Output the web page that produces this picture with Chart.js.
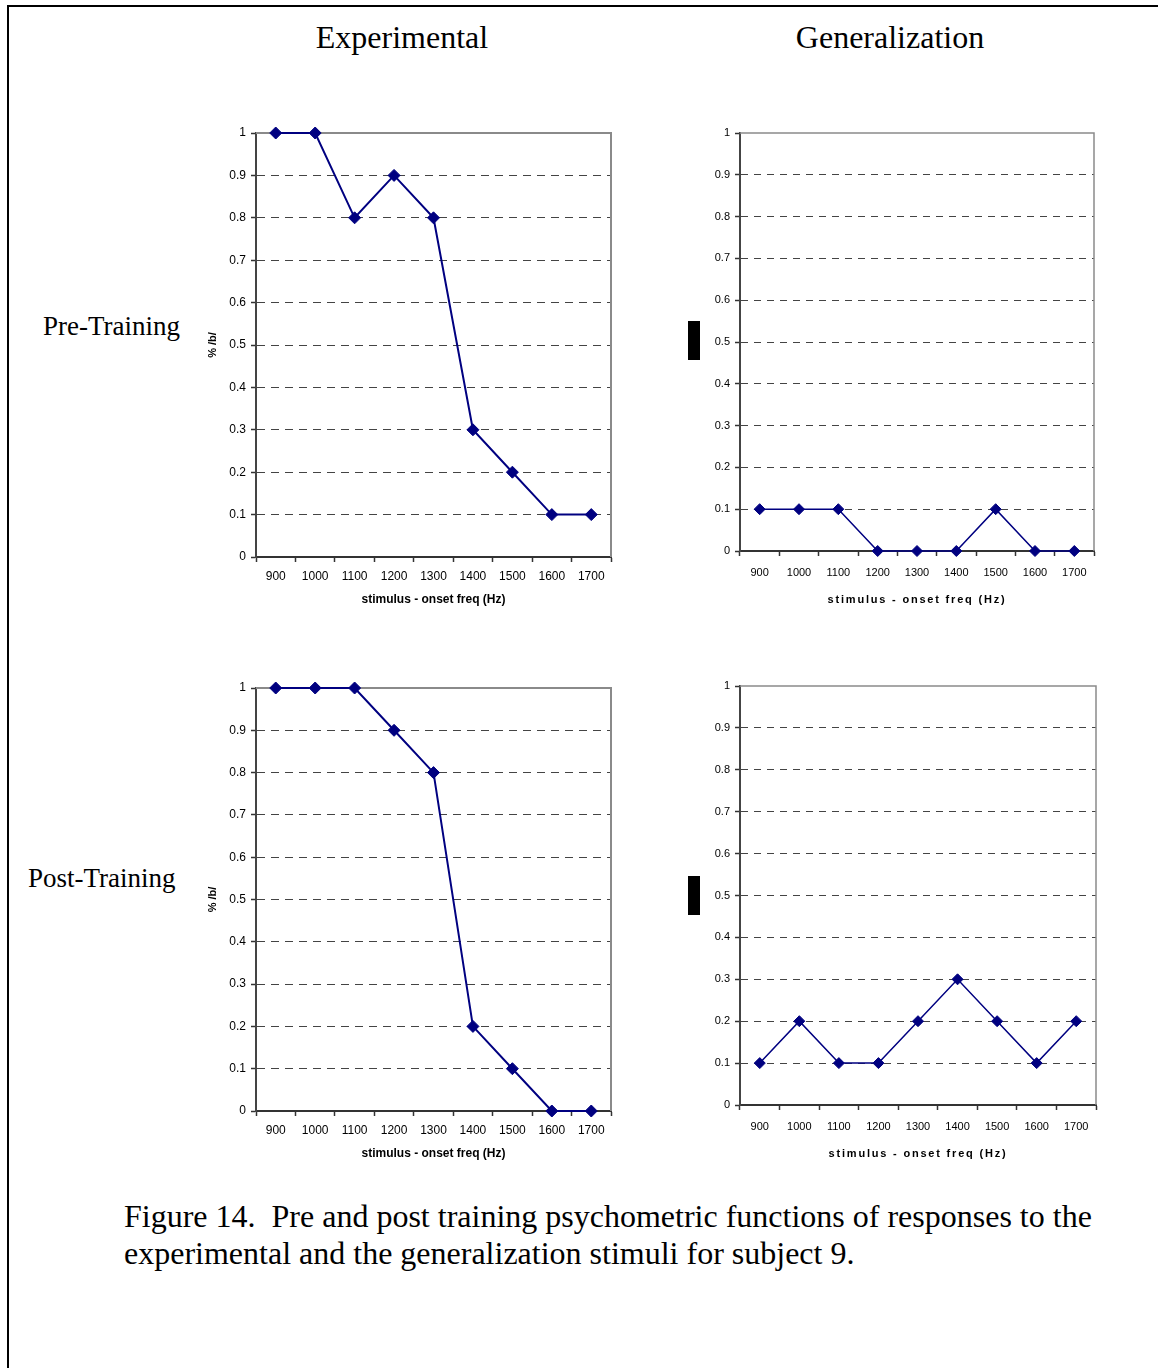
<!DOCTYPE html>
<html>
<head>
<meta charset="utf-8">
<script src="https://cdn.jsdelivr.net/npm/chart.js@4"></script>
<style>
  body { margin: 0; background: #fff; }
  #page { position: relative; width: 1158px; height: 1368px; overflow: hidden; background: #fff; }
  .line-top { position: absolute; left: 7px; top: 5px; width: 1151px; height: 2px; background: #000; }
  .line-left { position: absolute; left: 7px; top: 5px; width: 2px; height: 1363px; background: #000; }
  .serif { position: absolute; font-family: "Liberation Serif", "Times New Roman", serif; color: #000; white-space: nowrap; }
  canvas { position: absolute; }
  .blk { position: absolute; left: 688px; width: 12px; height: 39px; background: #000; }
</style>
</head>
<body>
<div id="page">
  <div class="line-top"></div>
  <div class="line-left"></div>

  <div class="serif" style="left:252px; width:300px; top:18px; font-size:32px; line-height:38px; text-align:center;">Experimental</div>
  <div class="serif" style="left:740px; width:300px; top:18px; font-size:32px; line-height:38px; text-align:center;">Generalization</div>

  <div class="serif" style="left:43px; top:310px; font-size:27px; line-height:32px;">Pre-Training</div>
  <div class="serif" style="left:28px; top:862px; font-size:27px; line-height:32px;">Post-Training</div>

  <canvas id="preExp" width="435" height="495" style="left:190px; top:120px;"></canvas>
  <canvas id="preGen" width="418" height="495" style="left:690px; top:120px;"></canvas>
  <canvas id="postExp" width="435" height="494" style="left:190px; top:675px;"></canvas>
  <canvas id="postGen" width="420" height="496" style="left:690px; top:673px;"></canvas>

  <div class="blk" style="top:321px;"></div>
  <div class="blk" style="top:876px;"></div>

  <div class="serif" style="left:124px; top:1198px; font-size:32px; line-height:37px;">Figure 14.&nbsp; Pre and post training psychometric functions of responses to the<br>experimental and the generalization stimuli for subject 9.</div>
</div>

<script>
const freqs = ["900", "1000", "1100", "1200", "1300", "1400", "1500", "1600", "1700"];

const preExperimental = [1, 1, 0.8, 0.9, 0.8, 0.3, 0.2, 0.1, 0.1];
const preGeneralization = [0.1, 0.1, 0.1, 0, 0, 0, 0.1, 0, 0];
const postExperimental = [1, 1, 1, 0.9, 0.8, 0.2, 0.1, 0, 0];
const postGeneralization = [0.1, 0.2, 0.1, 0.1, 0.2, 0.3, 0.2, 0.1, 0.2];

const yTickLabels = ["0", "0.1", "0.2", "0.3", "0.4", "0.5", "0.6", "0.7", "0.8", "0.9", "1"];

// gray top and right sides of the plot box
const plotFrame = {
    id: "plotFrame",
    beforeDatasetsDraw(chart, args, opts) {
        const { ctx, chartArea: a } = chart;
        ctx.save();
        ctx.strokeStyle = opts.color;
        ctx.lineWidth = opts.width;
        ctx.beginPath();
        ctx.moveTo(a.left, a.top);
        ctx.lineTo(a.right, a.top);
        ctx.lineTo(a.right, a.bottom);
        ctx.stroke();
        ctx.restore();
    }
};

function drawPanel(id, values, cfg) {

    const tickFont = { family: "'Liberation Sans', Arial, sans-serif", size: cfg.fontSize };
    const titleFont = { family: "'Liberation Sans', Arial, sans-serif", size: cfg.titleSize, weight: "bold" };

    new Chart(document.getElementById(id), {
        type: "line",
        data: {
            labels: freqs,
            datasets: [{
                data: values,
                borderColor: "#000080",
                backgroundColor: "#000080",
                borderWidth: cfg.lineWidth,
                pointStyle: "rectRot",
                pointRadius: cfg.pointRadius,
                pointHoverRadius: cfg.pointRadius,
                pointBorderWidth: 1,
                tension: 0,
                clip: false
            }]
        },
        options: {
            responsive: false,
            animation: false,
            events: [],
            layout: { padding: { top: 13, right: 14, left: 0, bottom: 0 } },
            plugins: {
                legend: { display: false },
                tooltip: { enabled: false },
                plotFrame: { color: "#8a8a8a", width: cfg.frameWidth }
            },
            scales: {
                x: {
                    offset: true,
                    grid: {
                        offset: true,
                        drawOnChartArea: false,
                        drawTicks: true,
                        tickLength: 5,
                        tickColor: "#333",
                        tickWidth: 1.5
                    },
                    border: { color: "#333", width: 2 },
                    ticks: {
                        color: "#000",
                        font: tickFont,
                        padding: cfg.xPad,
                        maxRotation: 0,
                        autoSkip: false
                    },
                    title: {
                        display: true,
                        text: "stimulus - onset freq (Hz)",
                        color: "#000",
                        font: titleFont,
                        padding: { top: 0, bottom: 8 }
                    },
                    afterFit(scale) {
                        scale.height = cfg.xHeight;
                        // the generalization panels have a widely spaced axis title
                        if (cfg.titleSpacing && !scale._spaced) {
                            const drawTitle = scale.drawTitle.bind(scale);
                            scale.drawTitle = function () {
                                this.ctx.save();
                                this.ctx.letterSpacing = cfg.titleSpacing;
                                drawTitle();
                                this.ctx.restore();
                            };
                            scale._spaced = true;
                        }
                    }
                },
                y: {
                    min: 0,
                    max: 1,
                    grid: {
                        color: c => (c.tick && (c.tick.value === 0 || c.tick.value === 1)) ? "rgba(0,0,0,0)" : "#444",
                        lineWidth: 1,
                        drawTicks: true,
                        tickLength: 5,
                        tickColor: "#333",
                        tickWidth: 1.5
                    },
                    border: { color: "#444", width: 2, dash: cfg.dash },
                    ticks: {
                        stepSize: 0.1,
                        color: "#000",
                        font: tickFont,
                        padding: 5,
                        callback: (v, i) => yTickLabels[i]
                    },
                    title: {
                        display: cfg.yTitle,
                        text: "% /b/",
                        color: "#000",
                        font: { family: "'Liberation Sans', Arial, sans-serif", size: 11, weight: "bold" },
                        padding: { top: 16, bottom: 0 }
                    },
                    afterFit(scale) { scale.width = cfg.yWidth; }
                }
            }
        },
        plugins: [plotFrame]
    });
}

const leftCfg = { yWidth: 66, xHeight: 58, xPad: 7, fontSize: 12, titleSize: 12, lineWidth: 2, pointRadius: 6, frameWidth: 2, yTitle: true, dash: [8, 6] };
const rightCfg = { yWidth: 50, xHeight: 64, xPad: 10, fontSize: 11, titleSize: 11, titleSpacing: "1.8px", lineWidth: 1.5, pointRadius: 5.5, frameWidth: 1.5, yTitle: false, dash: [7, 6] };

drawPanel("preExp", preExperimental, leftCfg);
drawPanel("preGen", preGeneralization, rightCfg);
drawPanel("postExp", postExperimental, leftCfg);
drawPanel("postGen", postGeneralization, rightCfg);
</script>
</body>
</html>
